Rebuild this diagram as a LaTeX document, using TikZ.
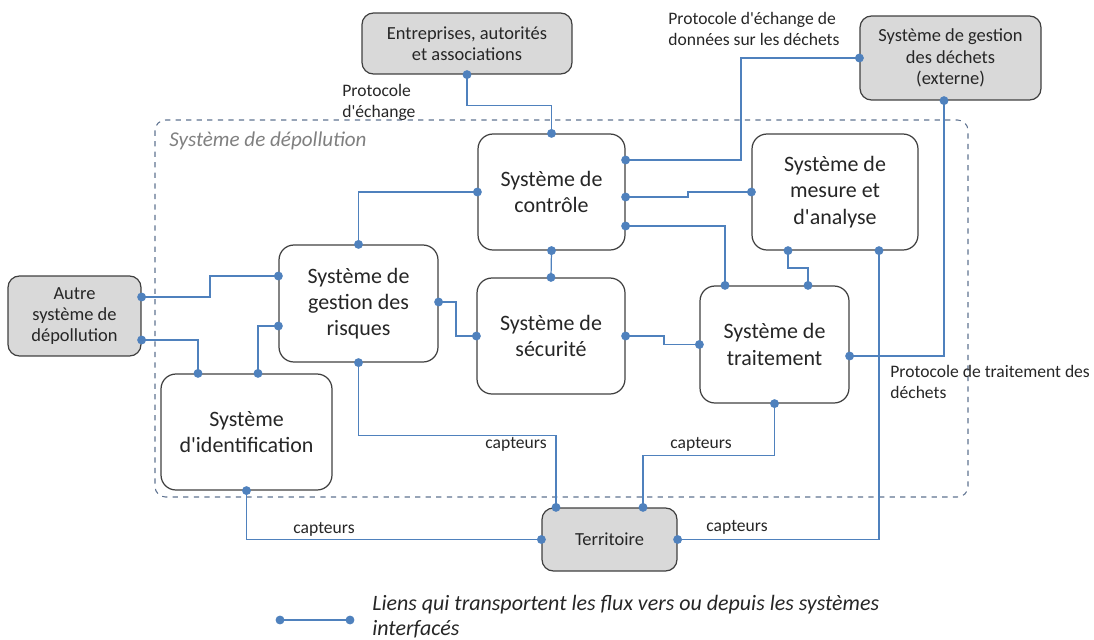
\documentclass[tikz,border=0pt]{standalone}
\usepackage{fontspec}
\setmainfont{Carlito}[Ligatures=TeXOff]
\usepackage{tikz}
\usepackage{xcolor}
\usetikzlibrary{arrows.meta, positioning}

\definecolor{linkblue}{RGB}{79,129,189}
\definecolor{boxgray}{RGB}{217,217,217}
\definecolor{boxline}{RGB}{64,64,64}
\definecolor{zoneline}{RGB}{95,115,145}
\definecolor{txt}{RGB}{38,38,38}

\begin{document}
\begin{tikzpicture}[x=0.02cm, y=-0.02cm,
        sysbox/.style={draw=boxline, line width=0.7pt, rounded corners=8.5pt, align=center, text=txt, font=\fontsize{12.5}{15}\selectfont},
        extbox/.style={sysbox, fill=boxgray, rounded corners=6.5pt, font=\fontsize{10.5}{12.2}\selectfont},
        link/.style={draw=linkblue, line width=0.7pt, shorten <=-2.5pt, shorten >=-2.5pt, {Circle[length=5pt]}-{Circle[length=5pt]}},
        note/.style={text=txt, align=left, inner sep=0pt, font=\fontsize{10}{11.8}\selectfont}]
        \useasboundingbox (0,0) rectangle (1094,639);

        % Zone of the system
        \draw[zoneline, dashed, line width=0.6pt, rounded corners=6pt] (155,120) rectangle (968,497);
        \node[anchor=west, inner sep=0pt, text=gray, font=\fontsize{12}{14}\selectfont\itshape] (zone) at (169,141) {Système de dépollution};

        % Outer systems
        \node[extbox, minimum width=4.2cm, minimum height=1.22cm] (ent) at (467,43.5) {Entreprises, autorités\\et associations};
        \node[extbox, minimum width=3.62cm, minimum height=1.68cm] (ext) at (950.5,58) {Système de gestion\\des déchets\\(externe)};
        \node[extbox, minimum width=2.66cm, minimum height=1.6cm] (autre) at (74.5,316) {Autre\\système de\\dépollution};
        \node[extbox, minimum width=2.7cm, minimum height=1.26cm] (terr) at (609.5,539.5) {Territoire};

        % Inner systems
        \node[sysbox, minimum width=2.94cm, minimum height=2.32cm] (ctrl) at (551.5,192) {Système de\\contrôle};
        \node[sysbox, minimum width=3.32cm, minimum height=2.32cm] (mes) at (835,192) {Système de\\mesure et\\d'analyse};
        \node[sysbox, minimum width=3.18cm, minimum height=2.34cm] (risq) at (358.5,303.5) {Système de\\gestion des\\risques};
        \node[sysbox, minimum width=2.96cm, minimum height=2.32cm] (secu) at (551,336) {Système de\\sécurité};
        \node[sysbox, minimum width=2.98cm, minimum height=2.34cm] (trait) at (774.5,344.5) {Système de\\traitement};
        \node[sysbox, minimum width=3.42cm, minimum height=2.32cm] (ident) at (246.5,432) {Système\\d'identification};

        % Links
        \draw[link] (ent.south) -- ++(0,31) -| (ctrl.north);
        \draw[link] (ext.west) -| (741,160) -- (ctrl.east |- 0,160);
        \draw[link] (ctrl.east |- 0,197) -- (688,197) |- (mes.west);
        \draw[link] (ctrl.east |- 0,226) -| (725,0 |- trait.north);
        \draw[link] (ctrl.west) -| (risq.north);
        \draw[link] (ctrl.south) -- (secu.north);
        \draw[link] (788,0 |- mes.south) -- (788,268) -| (808,0 |- trait.north);
        \draw[link] (879,0 |- mes.south) |- (terr.east);
        \draw[link] (944,0 |- ext.south) |- (trait.east |- 0,356);
        \draw[link] (autre.east |- 0,297) -- (210,297) |- (risq.west |- 0,276);
        \draw[link] (autre.east |- 0,340) -| (198,0 |- ident.north);
        \draw[link] (258,0 |- ident.north) |- (risq.west |- 0,326);
        \draw[link] (risq.east |- 0,302) -- (456,302) |- (secu.west);
        \draw[link] (secu.east) -- (664,336) |- (trait.west);
        \draw[link] (risq.south) -- ++(0,73) -| (556,0 |- terr.north);
        \draw[link] (trait.south) -- ++(0,52) -| (643,0 |- terr.north);
        \draw[link] (ident.south) |- (terr.west);

        % Link labels
        \node[note, anchor=north west] (protA) at (342,84) {Protocole\\d'échange};
        \node[note, anchor=north west] (protB) at (668,12) {Protocole d'échange de\\données sur les déchets};
        \node[note, anchor=north west] (protC) at (890,365) {Protocole de traitement des\\déchets};
        \node[note] (capA) at (516,444) {capteurs};
        \node[note] (capB) at (701,444) {capteurs};
        \node[note] (capC) at (324,529) {capteurs};
        \node[note] (capD) at (737,527) {capteurs};

        % Legend
        \coordinate (legA) at (280,620);
        \coordinate (legB) at (350,620);
        \draw[link] (legA) -- (legB);
        \node[anchor=west, align=left, inner sep=0pt, text=txt, font=\fontsize{12.5}{14.2}\selectfont\itshape] (legend) at (372,617) {Liens qui transportent les flux vers ou depuis les systèmes\\interfacés};
\end{tikzpicture}
\end{document}
